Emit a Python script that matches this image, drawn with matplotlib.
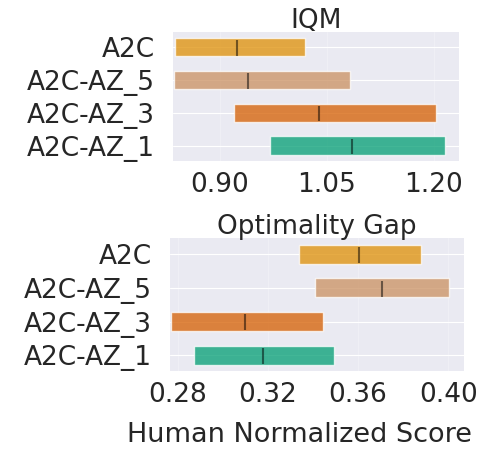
import numpy as np
import matplotlib
matplotlib.use("Agg")
import matplotlib.pyplot as plt
import seaborn as sns

# Data (bottom row first, top row last)
algorithms = ["A2C-AZ_1", "A2C-AZ_3", "A2C-AZ_5", "A2C"]
colors = {"A2C": "#de8f05", "A2C-AZ_5": "#ca9161",
          "A2C-AZ_3": "#d55e00", "A2C-AZ_1": "#029e73"}

iqm_point = [1.085, 1.039, 0.940, 0.924]
iqm_low = [0.970, 0.920, 0.835, 0.837]
iqm_high = [1.216, 1.204, 1.083, 1.019]

gap_point = [0.3177, 0.3100, 0.3705, 0.3603]
gap_low = [0.2872, 0.2769, 0.3411, 0.3339]
gap_high = [0.3492, 0.3446, 0.4001, 0.3879]

sns.set_style("darkgrid")
plt.rcParams["font.family"] = ["DejaVu Sans"]

fig = plt.figure(figsize=(4.87, 4.49), dpi=100)
ax_top = fig.add_axes([0.3546, 0.6414, 0.5885, 0.288])
ax_bot = fig.add_axes([0.3485, 0.1737, 0.6043, 0.2955])

h = 0.56
FS = 19


def draw_metric(ax, point, low, high, title, xlim, ticks, fmt):
    for j, alg in enumerate(algorithms):
        ax.barh(y=j, width=high[j] - low[j], height=h, left=low[j],
                color=colors[alg], alpha=0.75)
        ax.vlines(x=point[j], ymin=j - 7.5 * h / 16, ymax=j + 6 * h / 16,
                  color="k", alpha=0.5, linewidth=1.5)
    ax.set_yticks(range(len(algorithms)))
    ax.set_yticklabels(algorithms, fontsize=FS)
    ax.set_xticks(ticks)
    ax.set_xticklabels([fmt.format(t) for t in ticks], fontsize=FS)
    ax.set_xlim(*xlim)
    ax.set_ylim(-0.47, 3.47)
    ax.set_title(title, fontsize=FS, pad=3)
    ax.tick_params(axis="x", length=0, pad=8)
    ax.tick_params(axis="y", length=0, pad=13)
    ax.grid(True, axis="x", alpha=0.25)
    for s in ax.spines.values():
        s.set_visible(False)


draw_metric(ax_top, iqm_point, iqm_low, iqm_high, "IQM",
            (0.8336, 1.236), [0.90, 1.05, 1.20], "{:.2f}")
draw_metric(ax_bot, gap_point, gap_low, gap_high, "Optimality Gap",
            (0.2765, 0.40696), [0.28, 0.32, 0.36, 0.40], "{:.2f}")

fig.text(0.615, 0.031, "Human Normalized Score", ha="center", va="center",
         fontsize=19.5, color=".15")

fig.savefig("out.png", dpi=100)
